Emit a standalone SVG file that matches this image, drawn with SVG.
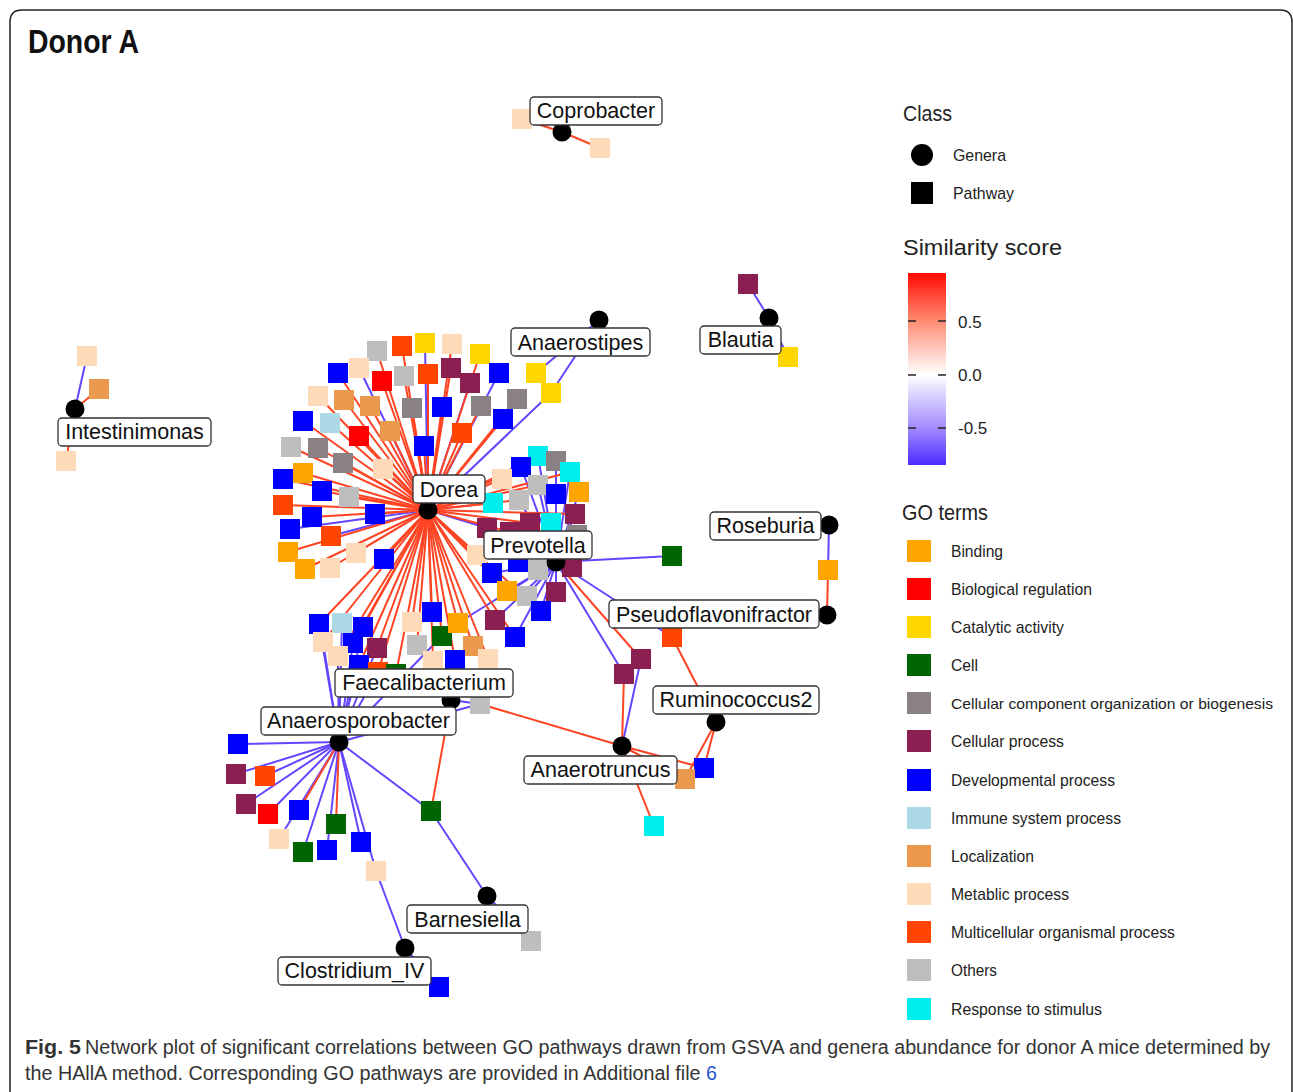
<svg xmlns="http://www.w3.org/2000/svg" width="1293" height="1092" viewBox="0 0 1293 1092">
<defs>
<linearGradient id="sim" x1="0" y1="0" x2="0" y2="1">
<stop offset="0" stop-color="#FF0A00"/>
<stop offset="0.25" stop-color="#FF8C72"/>
<stop offset="0.53" stop-color="#FFFFFF"/>
<stop offset="0.8" stop-color="#A58EFF"/>
<stop offset="1" stop-color="#4C2CFF"/>
</linearGradient>
<style>
.r{stroke:#FF4424;stroke-width:2;fill:none}
.b{stroke:#6446FF;stroke-width:2;fill:none}
.bd{fill:#FFA500}.br{fill:#FF0000}.ca{fill:#FFD700}.ce{fill:#006400}
.cc{fill:#898183}.cp{fill:#8B1F51}.dv{fill:#0000FF}.im{fill:#ADD8E6}
.lo{fill:#EB9A4D}.me{fill:#FFDAB9}.mu{fill:#FF4500}.ot{fill:#BEBEBE}.rs{fill:#00EEEE}
.g{fill:#000}
.lb{fill:#fff;stroke:#333;stroke-width:1.3}
.lt{font-family:"Liberation Sans",Arial,sans-serif;font-size:21.5px;fill:#111;text-anchor:middle}
.leg{font-family:"Liberation Sans",Arial,sans-serif;font-size:17px;fill:#222}
.legs{font-family:"Liberation Sans",Arial,sans-serif;font-size:15px;fill:#222}
.lh{font-family:"Liberation Sans",Arial,sans-serif;font-size:22px;fill:#222}
.cap{font-family:"Liberation Sans",Arial,sans-serif;font-size:19.5px;fill:#333}
</style>
</defs>
<rect width="1293" height="1092" fill="#fff"/>
<path d="M10,1092 V22 Q10,10 22,10 H1280 Q1292,10 1292,22 V1092" fill="none" stroke="#222" stroke-width="1.5"/>
<text x="28" y="53" font-family="'Liberation Sans',Arial,sans-serif" font-weight="bold" font-size="33" fill="#111" textLength="111" lengthAdjust="spacingAndGlyphs">Donor A</text>

<g id="edges">
<line class="r" x1="562" y1="132" x2="522" y2="119"/><line class="r" x1="562" y1="132" x2="600" y2="148"/>
<line class="b" x1="769" y1="318" x2="748" y2="284"/><line class="b" x1="769" y1="318" x2="788" y2="357"/>
<line class="b" x1="599" y1="320" x2="536" y2="373"/><line class="b" x1="599" y1="320" x2="551" y2="393"/>
<line class="b" x1="75" y1="409" x2="87" y2="356"/><line class="r" x1="75" y1="409" x2="99" y2="389"/><line class="r" x1="75" y1="409" x2="66" y2="461"/>
<line class="b" x1="829" y1="525" x2="828" y2="570"/><line class="r" x1="827" y1="615" x2="828" y2="570"/>
<line class="r" x1="716" y1="722" x2="672" y2="637"/><line class="r" x1="716" y1="722" x2="704" y2="768"/><line class="r" x1="716" y1="722" x2="685" y2="779"/>
<line class="r" x1="622" y1="746" x2="704" y2="768"/><line class="r" x1="622" y1="746" x2="685" y2="779"/><line class="r" x1="622" y1="746" x2="654" y2="826"/><line class="r" x1="622" y1="746" x2="624" y2="674"/><line class="b" x1="622" y1="746" x2="641" y2="659"/><line class="r" x1="622" y1="746" x2="480" y2="704"/>
<line class="b" x1="487" y1="896" x2="431" y2="811"/><line class="b" x1="487" y1="896" x2="531" y2="941"/>
<line class="b" x1="405" y1="948" x2="376" y2="871"/><line class="b" x1="405" y1="948" x2="439" y2="987"/>
<line class="b" x1="451" y1="700" x2="480" y2="704"/><line class="r" x1="451" y1="700" x2="431" y2="811"/><line class="b" x1="451" y1="700" x2="455" y2="660"/><line class="r" x1="451" y1="700" x2="433" y2="661"/><line class="b" x1="451" y1="700" x2="396" y2="674"/><line class="r" x1="451" y1="700" x2="488" y2="659"/>
<line class="b" x1="339" y1="742" x2="238" y2="744"/><line class="b" x1="339" y1="742" x2="236" y2="774"/><line class="b" x1="339" y1="742" x2="265" y2="776"/><line class="b" x1="339" y1="742" x2="246" y2="804"/><line class="b" x1="339" y1="742" x2="268" y2="814"/><line class="b" x1="339" y1="742" x2="279" y2="839"/><line class="b" x1="339" y1="742" x2="303" y2="852"/><line class="b" x1="339" y1="742" x2="327" y2="850"/><line class="b" x1="339" y1="742" x2="361" y2="842"/><line class="b" x1="339" y1="742" x2="376" y2="871"/><line class="b" x1="339" y1="742" x2="431" y2="811"/>
<line class="r" x1="339" y1="742" x2="299" y2="810"/><line class="r" x1="339" y1="742" x2="336" y2="824"/>
<line class="b" x1="339" y1="742" x2="319" y2="624"/><line class="b" x1="339" y1="742" x2="342" y2="623"/><line class="b" x1="339" y1="742" x2="363" y2="627"/><line class="b" x1="339" y1="742" x2="323" y2="642"/><line class="b" x1="339" y1="742" x2="353" y2="643"/><line class="b" x1="339" y1="742" x2="377" y2="648"/><line class="b" x1="339" y1="742" x2="338" y2="656"/><line class="b" x1="339" y1="742" x2="359" y2="665"/><line class="b" x1="339" y1="742" x2="378" y2="672"/><line class="b" x1="339" y1="742" x2="442" y2="636"/><line class="b" x1="339" y1="742" x2="480" y2="704"/>
<line class="b" x1="556" y1="562" x2="538" y2="456"/><line class="b" x1="556" y1="562" x2="556" y2="461"/><line class="b" x1="556" y1="562" x2="570" y2="472"/><line class="b" x1="556" y1="562" x2="521" y2="467"/><line class="b" x1="556" y1="562" x2="538" y2="485"/><line class="b" x1="556" y1="562" x2="556" y2="494"/><line class="b" x1="556" y1="562" x2="579" y2="492"/><line class="b" x1="556" y1="562" x2="519" y2="500"/><line class="b" x1="556" y1="562" x2="530" y2="523"/><line class="b" x1="556" y1="562" x2="551" y2="523"/><line class="b" x1="556" y1="562" x2="575" y2="514"/><line class="b" x1="556" y1="562" x2="577" y2="535"/><line class="b" x1="556" y1="562" x2="492" y2="573"/><line class="b" x1="556" y1="562" x2="518" y2="562"/><line class="b" x1="556" y1="562" x2="538" y2="570"/><line class="b" x1="556" y1="562" x2="572" y2="567"/><line class="b" x1="556" y1="562" x2="507" y2="591"/><line class="b" x1="556" y1="562" x2="527" y2="596"/><line class="b" x1="556" y1="562" x2="556" y2="592"/><line class="b" x1="556" y1="562" x2="541" y2="611"/><line class="b" x1="556" y1="562" x2="495" y2="620"/><line class="b" x1="556" y1="562" x2="515" y2="637"/><line class="b" x1="556" y1="562" x2="672" y2="556"/><line class="b" x1="556" y1="562" x2="672" y2="637"/><line class="b" x1="556" y1="562" x2="624" y2="674"/><line class="b" x1="556" y1="562" x2="458" y2="623"/>
<line class="r" x1="556" y1="562" x2="641" y2="659"/>
<line class="b" x1="428" y1="510" x2="425" y2="343"/><line class="b" x1="428" y1="510" x2="359" y2="368"/><line class="b" x1="428" y1="510" x2="470" y2="383"/><line class="b" x1="428" y1="510" x2="499" y2="373"/><line class="b" x1="428" y1="510" x2="551" y2="393"/><line class="b" x1="428" y1="510" x2="290" y2="529"/><line class="b" x1="428" y1="510" x2="331" y2="536"/><line class="b" x1="428" y1="510" x2="487" y2="528"/>
<line class="r" x1="428" y1="510" x2="377" y2="351"/><line class="r" x1="428" y1="510" x2="402" y2="346"/><line class="r" x1="428" y1="510" x2="452" y2="344"/><line class="r" x1="428" y1="510" x2="480" y2="354"/><line class="r" x1="428" y1="510" x2="338" y2="373"/><line class="r" x1="428" y1="510" x2="382" y2="381"/><line class="r" x1="428" y1="510" x2="404" y2="376"/><line class="r" x1="428" y1="510" x2="428" y2="374"/><line class="r" x1="428" y1="510" x2="451" y2="368"/><line class="r" x1="428" y1="510" x2="318" y2="396"/><line class="r" x1="428" y1="510" x2="344" y2="400"/><line class="r" x1="428" y1="510" x2="370" y2="406"/><line class="r" x1="428" y1="510" x2="412" y2="408"/><line class="r" x1="428" y1="510" x2="442" y2="407"/><line class="r" x1="428" y1="510" x2="481" y2="406"/><line class="r" x1="428" y1="510" x2="517" y2="399"/><line class="r" x1="428" y1="510" x2="303" y2="421"/><line class="r" x1="428" y1="510" x2="330" y2="423"/><line class="r" x1="428" y1="510" x2="359" y2="436"/><line class="r" x1="428" y1="510" x2="390" y2="431"/><line class="r" x1="428" y1="510" x2="462" y2="433"/><line class="r" x1="428" y1="510" x2="503" y2="419"/><line class="r" x1="428" y1="510" x2="424" y2="446"/><line class="r" x1="428" y1="510" x2="291" y2="447"/><line class="r" x1="428" y1="510" x2="318" y2="448"/><line class="r" x1="428" y1="510" x2="343" y2="463"/><line class="r" x1="428" y1="510" x2="383" y2="469"/><line class="r" x1="428" y1="510" x2="283" y2="479"/><line class="r" x1="428" y1="510" x2="303" y2="473"/><line class="r" x1="428" y1="510" x2="322" y2="491"/><line class="r" x1="428" y1="510" x2="349" y2="497"/><line class="r" x1="428" y1="510" x2="283" y2="505"/><line class="r" x1="428" y1="510" x2="312" y2="517"/><line class="r" x1="428" y1="510" x2="375" y2="514"/><line class="r" x1="428" y1="510" x2="356" y2="553"/><line class="r" x1="428" y1="510" x2="288" y2="552"/><line class="r" x1="428" y1="510" x2="305" y2="569"/><line class="r" x1="428" y1="510" x2="330" y2="568"/><line class="r" x1="428" y1="510" x2="384" y2="559"/>
<line class="r" x1="428" y1="510" x2="502" y2="479"/><line class="r" x1="428" y1="510" x2="493" y2="503"/><line class="r" x1="428" y1="510" x2="519" y2="500"/><line class="r" x1="428" y1="510" x2="510" y2="532"/><line class="r" x1="428" y1="510" x2="530" y2="523"/><line class="r" x1="428" y1="510" x2="575" y2="514"/><line class="r" x1="428" y1="510" x2="477" y2="555"/><line class="r" x1="428" y1="510" x2="538" y2="456"/><line class="r" x1="428" y1="510" x2="521" y2="467"/><line class="r" x1="428" y1="510" x2="570" y2="472"/><line class="r" x1="428" y1="510" x2="538" y2="485"/>
<line class="r" x1="428" y1="510" x2="319" y2="624"/><line class="r" x1="428" y1="510" x2="363" y2="627"/><line class="r" x1="428" y1="510" x2="323" y2="642"/><line class="r" x1="428" y1="510" x2="353" y2="643"/><line class="r" x1="428" y1="510" x2="377" y2="648"/><line class="r" x1="428" y1="510" x2="338" y2="656"/><line class="r" x1="428" y1="510" x2="359" y2="665"/><line class="r" x1="428" y1="510" x2="378" y2="672"/><line class="r" x1="428" y1="510" x2="396" y2="674"/><line class="r" x1="428" y1="510" x2="412" y2="622"/><line class="r" x1="428" y1="510" x2="432" y2="612"/><line class="r" x1="428" y1="510" x2="417" y2="645"/><line class="r" x1="428" y1="510" x2="442" y2="636"/><line class="r" x1="428" y1="510" x2="458" y2="623"/><line class="r" x1="428" y1="510" x2="473" y2="646"/><line class="r" x1="428" y1="510" x2="433" y2="661"/><line class="r" x1="428" y1="510" x2="455" y2="660"/><line class="r" x1="428" y1="510" x2="488" y2="659"/><line class="r" x1="428" y1="510" x2="495" y2="620"/><line class="r" x1="428" y1="510" x2="515" y2="637"/><line class="r" x1="428" y1="510" x2="507" y2="591"/><line class="r" x1="428" y1="510" x2="492" y2="573"/><line class="r" x1="428" y1="510" x2="541" y2="611"/>
</g>

<g id="p1"><rect class="me" x="512" y="109" width="20" height="20"/></g>
<g id="p2"><rect class="me" x="590" y="138" width="20" height="20"/></g>
<g id="p3"><rect class="cp" x="738" y="274" width="20" height="20"/></g>
<g id="p4"><rect class="ca" x="778" y="347" width="20" height="20"/></g>
<g id="p5"><rect class="me" x="77" y="346" width="20" height="20"/></g>
<g id="p6"><rect class="lo" x="89" y="379" width="20" height="20"/></g>
<g id="p7"><rect class="me" x="56" y="451" width="20" height="20"/></g>
<g id="p8"><rect class="ot" x="367" y="341" width="20" height="20"/></g>
<g id="p9"><rect class="mu" x="392" y="336" width="20" height="20"/></g>
<g id="p10"><rect class="ca" x="415" y="333" width="20" height="20"/></g>
<g id="p11"><rect class="me" x="442" y="334" width="20" height="20"/></g>
<g id="p12"><rect class="ca" x="470" y="344" width="20" height="20"/></g>
<g id="p13"><rect class="dv" x="328" y="363" width="20" height="20"/></g>
<g id="p14"><rect class="me" x="349" y="358" width="20" height="20"/></g>
<g id="p15"><rect class="br" x="372" y="371" width="20" height="20"/></g>
<g id="p16"><rect class="ot" x="394" y="366" width="20" height="20"/></g>
<g id="p17"><rect class="mu" x="418" y="364" width="20" height="20"/></g>
<g id="p18"><rect class="cp" x="441" y="358" width="20" height="20"/></g>
<g id="p19"><rect class="cp" x="460" y="373" width="20" height="20"/></g>
<g id="p20"><rect class="dv" x="489" y="363" width="20" height="20"/></g>
<g id="p21"><rect class="ca" x="526" y="363" width="20" height="20"/></g>
<g id="p22"><rect class="me" x="308" y="386" width="20" height="20"/></g>
<g id="p23"><rect class="lo" x="334" y="390" width="20" height="20"/></g>
<g id="p24"><rect class="lo" x="360" y="396" width="20" height="20"/></g>
<g id="p25"><rect class="cc" x="402" y="398" width="20" height="20"/></g>
<g id="p26"><rect class="dv" x="432" y="397" width="20" height="20"/></g>
<g id="p27"><rect class="cc" x="471" y="396" width="20" height="20"/></g>
<g id="p28"><rect class="cc" x="507" y="389" width="20" height="20"/></g>
<g id="p29"><rect class="ca" x="541" y="383" width="20" height="20"/></g>
<g id="p30"><rect class="dv" x="293" y="411" width="20" height="20"/></g>
<g id="p31"><rect class="im" x="320" y="413" width="20" height="20"/></g>
<g id="p32"><rect class="br" x="349" y="426" width="20" height="20"/></g>
<g id="p33"><rect class="lo" x="380" y="421" width="20" height="20"/></g>
<g id="p34"><rect class="mu" x="452" y="423" width="20" height="20"/></g>
<g id="p35"><rect class="dv" x="493" y="409" width="20" height="20"/></g>
<g id="p36"><rect class="dv" x="414" y="436" width="20" height="20"/></g>
<g id="p37"><rect class="ot" x="281" y="437" width="20" height="20"/></g>
<g id="p38"><rect class="cc" x="308" y="438" width="20" height="20"/></g>
<g id="p39"><rect class="cc" x="333" y="453" width="20" height="20"/></g>
<g id="p40"><rect class="me" x="373" y="459" width="20" height="20"/></g>
<g id="p41"><rect class="dv" x="273" y="469" width="20" height="20"/></g>
<g id="p42"><rect class="bd" x="293" y="463" width="20" height="20"/></g>
<g id="p43"><rect class="dv" x="312" y="481" width="20" height="20"/></g>
<g id="p44"><rect class="ot" x="339" y="487" width="20" height="20"/></g>
<g id="p45"><rect class="mu" x="273" y="495" width="20" height="20"/></g>
<g id="p46"><rect class="dv" x="302" y="507" width="20" height="20"/></g>
<g id="p47"><rect class="dv" x="365" y="504" width="20" height="20"/></g>
<g id="p48"><rect class="dv" x="280" y="519" width="20" height="20"/></g>
<g id="p49"><rect class="mu" x="321" y="526" width="20" height="20"/></g>
<g id="p50"><rect class="me" x="346" y="543" width="20" height="20"/></g>
<g id="p51"><rect class="bd" x="278" y="542" width="20" height="20"/></g>
<g id="p52"><rect class="bd" x="295" y="559" width="20" height="20"/></g>
<g id="p53"><rect class="me" x="320" y="558" width="20" height="20"/></g>
<g id="p54"><rect class="dv" x="374" y="549" width="20" height="20"/></g>
<g id="p55"><rect class="rs" x="528" y="446" width="20" height="20"/></g>
<g id="p56"><rect class="cc" x="546" y="451" width="20" height="20"/></g>
<g id="p57"><rect class="rs" x="560" y="462" width="20" height="20"/></g>
<g id="p58"><rect class="dv" x="511" y="457" width="20" height="20"/></g>
<g id="p59"><rect class="me" x="492" y="469" width="20" height="20"/></g>
<g id="p60"><rect class="ot" x="528" y="475" width="20" height="20"/></g>
<g id="p61"><rect class="dv" x="546" y="484" width="20" height="20"/></g>
<g id="p62"><rect class="bd" x="569" y="482" width="20" height="20"/></g>
<g id="p63"><rect class="ot" x="509" y="490" width="20" height="20"/></g>
<g id="p64"><rect class="rs" x="483" y="493" width="20" height="20"/></g>
<g id="p65"><rect class="cp" x="477" y="518" width="20" height="20"/></g>
<g id="p66"><rect class="cp" x="500" y="522" width="20" height="20"/></g>
<g id="p67"><rect class="cp" x="520" y="513" width="20" height="20"/></g>
<g id="p68"><rect class="rs" x="541" y="513" width="20" height="20"/></g>
<g id="p69"><rect class="cp" x="565" y="504" width="20" height="20"/></g>
<g id="p70"><rect class="cc" x="567" y="525" width="20" height="20"/></g>
<g id="p71"><rect class="me" x="467" y="545" width="20" height="20"/></g>
<g id="p72"><rect class="dv" x="482" y="563" width="20" height="20"/></g>
<g id="p73"><rect class="dv" x="508" y="552" width="20" height="20"/></g>
<g id="p74"><rect class="ot" x="528" y="560" width="20" height="20"/></g>
<g id="p75"><rect class="cp" x="562" y="557" width="20" height="20"/></g>
<g id="p76"><rect class="bd" x="497" y="581" width="20" height="20"/></g>
<g id="p77"><rect class="ot" x="517" y="586" width="20" height="20"/></g>
<g id="p78"><rect class="cp" x="546" y="582" width="20" height="20"/></g>
<g id="p79"><rect class="dv" x="531" y="601" width="20" height="20"/></g>
<g id="p80"><rect class="cp" x="485" y="610" width="20" height="20"/></g>
<g id="p81"><rect class="dv" x="505" y="627" width="20" height="20"/></g>
<g id="p82"><rect class="ce" x="662" y="546" width="20" height="20"/></g>
<g id="p83"><rect class="dv" x="309" y="614" width="20" height="20"/></g>
<g id="p84"><rect class="im" x="332" y="613" width="20" height="20"/></g>
<g id="p85"><rect class="dv" x="353" y="617" width="20" height="20"/></g>
<g id="p86"><rect class="me" x="313" y="632" width="20" height="20"/></g>
<g id="p87"><rect class="dv" x="343" y="633" width="20" height="20"/></g>
<g id="p88"><rect class="cp" x="367" y="638" width="20" height="20"/></g>
<g id="p89"><rect class="me" x="328" y="646" width="20" height="20"/></g>
<g id="p90"><rect class="dv" x="349" y="655" width="20" height="20"/></g>
<g id="p91"><rect class="mu" x="368" y="662" width="20" height="20"/></g>
<g id="p92"><rect class="ce" x="386" y="664" width="20" height="20"/></g>
<g id="p93"><rect class="me" x="402" y="612" width="20" height="20"/></g>
<g id="p94"><rect class="dv" x="422" y="602" width="20" height="20"/></g>
<g id="p95"><rect class="ot" x="407" y="635" width="20" height="20"/></g>
<g id="p96"><rect class="ce" x="432" y="626" width="20" height="20"/></g>
<g id="p97"><rect class="bd" x="448" y="613" width="20" height="20"/></g>
<g id="p98"><rect class="lo" x="463" y="636" width="20" height="20"/></g>
<g id="p99"><rect class="me" x="423" y="651" width="20" height="20"/></g>
<g id="p100"><rect class="dv" x="445" y="650" width="20" height="20"/></g>
<g id="p101"><rect class="me" x="478" y="649" width="20" height="20"/></g>
<g id="p102"><rect class="ot" x="470" y="694" width="20" height="20"/></g>
<g id="p103"><rect class="bd" x="818" y="560" width="20" height="20"/></g>
<g id="p104"><rect class="mu" x="662" y="627" width="20" height="20"/></g>
<g id="p105"><rect class="cp" x="631" y="649" width="20" height="20"/></g>
<g id="p106"><rect class="cp" x="614" y="664" width="20" height="20"/></g>
<g id="p107"><rect class="dv" x="694" y="758" width="20" height="20"/></g>
<g id="p108"><rect class="lo" x="675" y="769" width="20" height="20"/></g>
<g id="p109"><rect class="rs" x="644" y="816" width="20" height="20"/></g>
<g id="p110"><rect class="dv" x="228" y="734" width="20" height="20"/></g>
<g id="p111"><rect class="cp" x="226" y="764" width="20" height="20"/></g>
<g id="p112"><rect class="mu" x="255" y="766" width="20" height="20"/></g>
<g id="p113"><rect class="cp" x="236" y="794" width="20" height="20"/></g>
<g id="p114"><rect class="br" x="258" y="804" width="20" height="20"/></g>
<g id="p115"><rect class="dv" x="289" y="800" width="20" height="20"/></g>
<g id="p116"><rect class="me" x="269" y="829" width="20" height="20"/></g>
<g id="p117"><rect class="ce" x="293" y="842" width="20" height="20"/></g>
<g id="p118"><rect class="ce" x="326" y="814" width="20" height="20"/></g>
<g id="p119"><rect class="dv" x="317" y="840" width="20" height="20"/></g>
<g id="p120"><rect class="dv" x="351" y="832" width="20" height="20"/></g>
<g id="p121"><rect class="me" x="366" y="861" width="20" height="20"/></g>
<g id="p122"><rect class="ce" x="421" y="801" width="20" height="20"/></g>
<g id="p123"><rect class="ot" x="521" y="931" width="20" height="20"/></g>
<g id="p124"><rect class="dv" x="429" y="977" width="20" height="20"/></g>

<g id="Coprobacter"><circle class="g" cx="562" cy="132" r="9.5"/><rect class="lb" x="530" y="97" width="132" height="28" rx="4"/><text class="lt" x="596" y="118">Coprobacter</text></g>
<g id="Blautia"><circle class="g" cx="769" cy="318" r="9.5"/><rect class="lb" x="700" y="326" width="81" height="28" rx="4"/><text class="lt" x="740.5" y="347">Blautia</text></g>
<g id="Anaerostipes"><circle class="g" cx="599" cy="320" r="9.5"/><rect class="lb" x="511" y="328" width="139" height="28" rx="4"/><text class="lt" x="580.5" y="350">Anaerostipes</text></g>
<g id="Intestinimonas"><circle class="g" cx="75" cy="409" r="9.5"/><rect class="lb" x="58" y="418" width="153" height="28" rx="4"/><text class="lt" x="134.5" y="439">Intestinimonas</text></g>
<g id="Dorea"><circle class="g" cx="428" cy="510" r="9.5"/><rect class="lb" x="413" y="475" width="72" height="28" rx="4"/><text class="lt" x="449" y="497">Dorea</text></g>
<g id="Prevotella"><circle class="g" cx="556" cy="562" r="9.5"/><rect class="lb" x="484" y="531" width="108" height="28" rx="4"/><text class="lt" x="538" y="553">Prevotella</text></g>
<g id="Roseburia"><circle class="g" cx="829" cy="525" r="9.5"/><rect class="lb" x="710" y="512" width="111" height="28" rx="4"/><text class="lt" x="765.5" y="533">Roseburia</text></g>
<g id="Pseudoflavonifractor"><circle class="g" cx="827" cy="615" r="9.5"/><rect class="lb" x="609" y="600" width="210" height="28" rx="4"/><text class="lt" x="714" y="622">Pseudoflavonifractor</text></g>
<g id="Ruminococcus2"><circle class="g" cx="716" cy="722" r="9.5"/><rect class="lb" x="653" y="686" width="166" height="28" rx="4"/><text class="lt" x="736" y="707">Ruminococcus2</text></g>
<g id="Faecalibacterium"><circle class="g" cx="451" cy="700" r="9.5"/><rect class="lb" x="335" y="669" width="178" height="28" rx="4"/><text class="lt" x="424" y="690">Faecalibacterium</text></g>
<g id="Anaerosporobacter"><circle class="g" cx="339" cy="742" r="9.5"/><rect class="lb" x="261" y="707" width="195" height="28" rx="4"/><text class="lt" x="358.5" y="728">Anaerosporobacter</text></g>
<g id="Anaerotruncus"><circle class="g" cx="622" cy="746" r="9.5"/><rect class="lb" x="524" y="756" width="153" height="28" rx="4"/><text class="lt" x="600.5" y="777">Anaerotruncus</text></g>
<g id="Barnesiella"><circle class="g" cx="487" cy="896" r="9.5"/><rect class="lb" x="407" y="905" width="121" height="28" rx="4"/><text class="lt" x="467.5" y="927">Barnesiella</text></g>
<g id="Clostridium_IV"><circle class="g" cx="405" cy="948" r="9.5"/><rect class="lb" x="278" y="957" width="153" height="28" rx="4"/><text class="lt" x="354.5" y="978">Clostridium_IV</text></g>

<g id="legend">
<text class="lh" x="903" y="121" textLength="49" lengthAdjust="spacingAndGlyphs">Class</text>
<circle cx="922" cy="155" r="11" fill="#000"/>
<text class="leg" x="953" y="161" textLength="53" lengthAdjust="spacingAndGlyphs">Genera</text>
<rect x="911" y="182" width="22" height="22" fill="#000"/>
<text class="leg" x="953" y="199" textLength="61" lengthAdjust="spacingAndGlyphs">Pathway</text>
<text class="lh" x="903" y="255" textLength="159" lengthAdjust="spacingAndGlyphs">Similarity score</text>
<rect x="908" y="273" width="38" height="192" fill="url(#sim)"/>
<g stroke="#222" stroke-width="1.5">
<line x1="908" y1="321" x2="916" y2="321"/><line x1="938" y1="321" x2="946" y2="321"/>
<line x1="908" y1="375" x2="916" y2="375"/><line x1="938" y1="375" x2="946" y2="375"/>
<line x1="908" y1="428" x2="916" y2="428"/><line x1="938" y1="428" x2="946" y2="428"/>
</g>
<text class="leg" x="958" y="328">0.5</text>
<text class="leg" x="958" y="381">0.0</text>
<text class="leg" x="958" y="434">-0.5</text>
<text class="lh" x="902" y="520" textLength="86" lengthAdjust="spacingAndGlyphs">GO terms</text>
<rect class="bd" x="907" y="540" width="24" height="22"/><text class="leg" x="951" y="557" textLength="52" lengthAdjust="spacingAndGlyphs">Binding</text>
<rect class="br" x="907" y="578" width="24" height="22"/><text class="leg" x="951" y="595" textLength="141" lengthAdjust="spacingAndGlyphs">Biological regulation</text>
<rect class="ca" x="907" y="616" width="24" height="22"/><text class="leg" x="951" y="633" textLength="113" lengthAdjust="spacingAndGlyphs">Catalytic activity</text>
<rect class="ce" x="907" y="654" width="24" height="22"/><text class="leg" x="951" y="671" textLength="27" lengthAdjust="spacingAndGlyphs">Cell</text>
<rect class="cc" x="907" y="692" width="24" height="22"/><text class="legs" x="951" y="709" textLength="322" lengthAdjust="spacingAndGlyphs">Cellular component organization or biogenesis</text>
<rect class="cp" x="907" y="730" width="24" height="22"/><text class="leg" x="951" y="747" textLength="113" lengthAdjust="spacingAndGlyphs">Cellular process</text>
<rect class="dv" x="907" y="769" width="24" height="22"/><text class="leg" x="951" y="786" textLength="164" lengthAdjust="spacingAndGlyphs">Developmental process</text>
<rect class="im" x="907" y="807" width="24" height="22"/><text class="leg" x="951" y="824" textLength="170" lengthAdjust="spacingAndGlyphs">Immune system process</text>
<rect class="lo" x="907" y="845" width="24" height="22"/><text class="leg" x="951" y="862" textLength="83" lengthAdjust="spacingAndGlyphs">Localization</text>
<rect class="me" x="907" y="883" width="24" height="22"/><text class="leg" x="951" y="900" textLength="118" lengthAdjust="spacingAndGlyphs">Metablic process</text>
<rect class="mu" x="907" y="921" width="24" height="22"/><text class="leg" x="951" y="938" textLength="224" lengthAdjust="spacingAndGlyphs">Multicellular organismal process</text>
<rect class="ot" x="907" y="959" width="24" height="22"/><text class="leg" x="951" y="976" textLength="46" lengthAdjust="spacingAndGlyphs">Others</text>
<rect class="rs" x="907" y="998" width="24" height="22"/><text class="leg" x="951" y="1015" textLength="151" lengthAdjust="spacingAndGlyphs">Response to stimulus</text>
</g>

<g id="caption">
<text class="cap" x="25" y="1054" font-weight="bold" fill="#222" textLength="56" lengthAdjust="spacingAndGlyphs">Fig. 5</text>
<text class="cap" x="85" y="1054" textLength="1185" lengthAdjust="spacingAndGlyphs">Network plot of significant correlations between GO pathways drawn from GSVA and genera abundance for donor A mice determined by</text>
<text class="cap" x="25" y="1080" textLength="692" lengthAdjust="spacingAndGlyphs">the HAllA method. Corresponding GO pathways are provided in Additional file <tspan fill="#2255CC">6</tspan></text>
</g>
</svg>
